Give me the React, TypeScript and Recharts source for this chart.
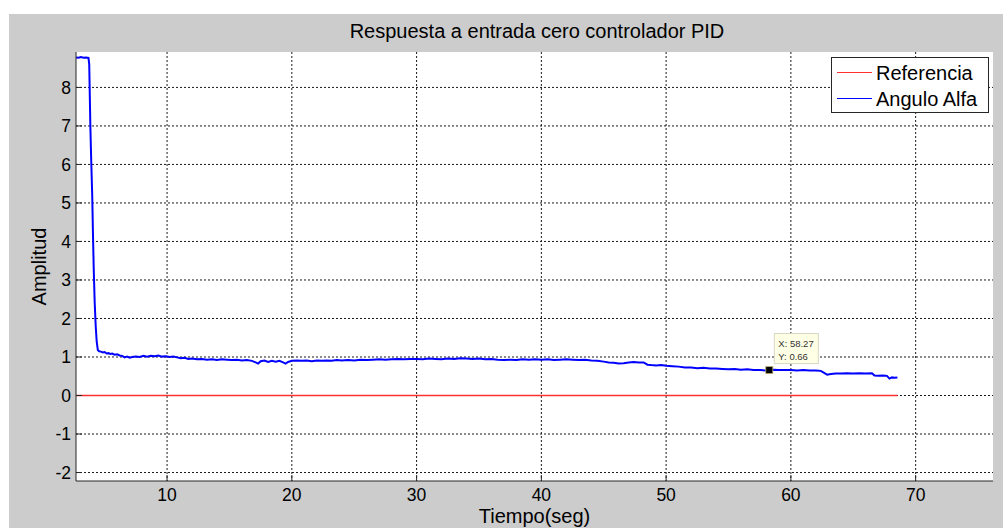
import React from 'react';
import { LineChart, Line, XAxis, YAxis, CartesianGrid, Legend, ReferenceDot } from 'recharts';

// ---- data ----
const timeSec = [
  2.7, 2.9, 3.1, 3.3, 3.5, 3.7, 3.76, 3.85, 3.92, 4.0, 4.06, 4.12, 4.2, 4.28, 4.36, 4.45, 4.55, 4.7, 4.85, 5.0,
  5.15, 5.3, 5.45, 5.6, 5.8, 6.0, 6.2, 6.4, 6.6, 6.8, 7.0, 7.2, 7.5, 7.8, 8.1, 8.4, 8.7, 9.0, 9.3, 9.6,
  9.9, 10.2, 10.5, 10.8, 11.1, 11.4, 11.7, 12.0, 12.4, 12.8, 13.2, 13.6, 14.0, 14.4, 14.8, 15.2, 15.6, 16.0, 16.4, 16.8,
  17.1, 17.3, 17.5, 17.8, 18.1, 18.4, 18.7, 19.0, 19.3, 19.5, 19.7, 20.0, 20.4, 20.8, 21.2, 21.6, 22.0, 22.4, 22.8, 23.2,
  23.6, 24.0, 24.5, 25.0, 25.5, 26.0, 26.5, 27.0, 27.5, 28.0, 28.5, 29.0, 29.5, 30.0, 30.5, 31.0, 31.5, 32.0, 32.5, 33.0,
  33.5, 34.0, 34.5, 35.0, 35.5, 36.0, 36.5, 37.0, 37.5, 38.0, 38.5, 39.0, 39.5, 40.0, 40.5, 41.0, 41.5, 42.0, 42.5, 43.0,
  43.5, 44.0, 44.5, 45.0, 45.4, 45.8, 46.2, 46.6, 47.0, 47.4, 47.8, 48.2, 48.5, 48.8, 49.2, 49.6, 50.0, 50.5, 51.0, 51.5,
  52.0, 52.5, 53.0, 53.5, 54.0, 54.5, 55.0, 55.5, 56.0, 56.5, 57.0, 57.5, 58.0, 58.27, 58.6, 59.0, 59.5, 60.0, 60.5, 61.0,
  61.5, 62.0, 62.4, 62.7, 62.9, 63.2, 63.6, 64.0, 64.5, 65.0, 65.5, 66.0, 66.5, 66.7, 67.0, 67.4, 67.7, 67.9, 68.1, 68.3,
  68.54,
];
const anguloAlfa = [
  8.78, 8.77, 8.79, 8.77, 8.78, 8.77, 8.6, 7.0, 6.1, 5.2, 4.2, 3.3, 2.4, 1.8, 1.4, 1.18, 1.15, 1.14, 1.12, 1.13,
  1.09, 1.1, 1.08, 1.09, 1.06, 1.07, 1.04, 1.03, 0.99, 1.01, 0.98, 1.0, 1.01, 1.0, 1.03, 1.01, 1.03, 1.02, 1.04, 1.01,
  1.02, 1.0, 1.01, 0.99, 0.97, 0.98, 0.95, 0.96, 0.94, 0.95, 0.93, 0.94, 0.92, 0.94, 0.93, 0.92, 0.93, 0.91, 0.92, 0.9,
  0.86, 0.83, 0.89, 0.91, 0.87, 0.9, 0.88, 0.9, 0.86, 0.83, 0.87, 0.9, 0.91, 0.9, 0.91, 0.89, 0.91, 0.9, 0.91, 0.9,
  0.92, 0.91, 0.92, 0.91, 0.93, 0.92, 0.93, 0.94, 0.93, 0.94, 0.95, 0.94, 0.95, 0.95, 0.94, 0.96, 0.95, 0.94, 0.96, 0.95,
  0.97, 0.96, 0.95, 0.96, 0.94, 0.95, 0.93, 0.92, 0.93, 0.92, 0.94, 0.93, 0.94, 0.93, 0.94, 0.92, 0.93, 0.94, 0.93, 0.92,
  0.93, 0.91, 0.9, 0.88, 0.86, 0.85, 0.83, 0.84, 0.86, 0.87, 0.86, 0.86, 0.8, 0.79, 0.78, 0.79, 0.77, 0.76, 0.75, 0.73,
  0.73, 0.71, 0.72, 0.7, 0.7, 0.69, 0.68, 0.69, 0.67, 0.68, 0.66, 0.66, 0.65, 0.66, 0.67, 0.66, 0.66, 0.66, 0.65, 0.66,
  0.65, 0.65, 0.64, 0.58, 0.54, 0.56, 0.57, 0.57, 0.58, 0.57, 0.58, 0.57, 0.58, 0.52, 0.51, 0.52, 0.51, 0.44, 0.47, 0.46,
  0.47,
];
const referenciaTime = [2.7, 68.54];
const referenciaValue = [0, 0];

const xTicks = [10, 20, 30, 40, 50, 60, 70];
const yTicks = [-2, -1, 0, 1, 2, 3, 4, 5, 6, 7, 8];
const xDomain = [2.7, 76.2];
const yDomain = [-2.22, 8.92];

const tipX = 58.27;
const tipY = 0.66;

const titleText = 'Respuesta a entrada cero controlador PID';
const xLabelText = 'Tiempo(seg)';
const yLabelText = 'Amplitud';
const seriesNames = ['Referencia', 'Angulo Alfa'];
const seriesColors = ['#ff3030', '#0000ff'];

const alfaData = timeSec.map((t, i) => ({ t, v: anguloAlfa[i] }));
const refData = referenciaTime.map((t, i) => ({ t, r: referenciaValue[i] }));

// ---- styling ----
const FONT = '"Liberation Sans", Arial, Helvetica, sans-serif';
const AXIS = '#262626';
const TICK_LEN = 6;

const BottomTick = (p: any) => (
  <g>
    <line x1={p.x} x2={p.x} y1={p.y - 8} y2={p.y - 8 - TICK_LEN} stroke={AXIS} strokeWidth={1} />
    <text x={p.x} y={p.y} dy="0.71em" textAnchor="middle" fontSize={17.5} fontFamily={FONT} fill="#000">
      {p.payload.value}
    </text>
  </g>
);
const LeftTick = (p: any) => (
  <g>
    <line x1={p.x + 5} x2={p.x + 5 + TICK_LEN} y1={p.y} y2={p.y} stroke={AXIS} strokeWidth={1} />
    <text x={p.x} y={p.y} dy="0.355em" textAnchor="end" fontSize={17.5} fontFamily={FONT} fill="#000">
      {p.payload.value}
    </text>
  </g>
);
const TopTick = (p: any) => (
  <line x1={p.x} x2={p.x} y1={p.y} y2={p.y + TICK_LEN} stroke={AXIS} strokeWidth={1} />
);
const RightTick = (p: any) => (
  <line x1={p.x - TICK_LEN} x2={p.x} y1={p.y} y2={p.y} stroke={AXIS} strokeWidth={1} />
);

const TipShape = (p: any) => {
  const { cx, cy } = p;
  if (cx == null || cy == null) return <g />;
  return (
    <g>
      <rect x={cx + 5} y={cy - 36.5} width={44} height={30} fill="#ffffe6" stroke="#d6d6c2" strokeWidth={1} />
      <text x={cx + 9} y={cy - 23} fontSize={9.5} fontFamily={FONT} fill="#333">{`X: ${tipX}`}</text>
      <text x={cx + 9} y={cy - 10.5} fontSize={9.5} fontFamily={FONT} fill="#333">{`Y: ${tipY}`}</text>
      <rect x={cx - 3.5} y={cy - 3.5} width={7} height={7} fill="#000" stroke="#b8b070" strokeWidth={0.8} />
    </g>
  );
};

const LegendBox = () => (
  <div
    style={{
      width: 158,
      height: 56,
      boxSizing: 'border-box',
      border: `1px solid ${AXIS}`,
      background: '#fff',
      position: 'relative',
      fontFamily: FONT,
      fontSize: 20,
      color: '#000',
    }}
  >
    {seriesNames.map((name, i) => (
      <div key={name} style={{ position: 'absolute', left: 0, top: i === 0 ? 3 : 29, height: 24, width: '100%' }}>
        <div style={{ position: 'absolute', left: 5, top: 11, width: 35, height: 1, background: seriesColors[i] }} />
        <div style={{ position: 'absolute', left: 44, top: 0, lineHeight: '24px', whiteSpace: 'nowrap' }}>{name}</div>
      </div>
    ))}
  </div>
);

export default function App() {
  return (
    <div style={{ position: 'absolute', left: 0, top: 0, width: 1003, height: 528, background: '#fff', overflow: 'hidden' }}>
      <div style={{ position: 'absolute', left: 9, top: 14, width: 994, height: 514, background: '#cccccc' }} />
      <div
        style={{
          position: 'absolute',
          left: 80,
          top: 21,
          width: 914,
          height: 20,
          lineHeight: '20px',
          textAlign: 'center',
          fontFamily: FONT,
          fontSize: 20,
          color: '#000',
          whiteSpace: 'nowrap',
        }}
      >
        {titleText}
      </div>
      <div style={{ position: 'absolute', left: 0, top: 0 }}>
        <LineChart width={1003} height={528} margin={{ top: 52, right: 10, bottom: 17, left: 16 }}>
          <CartesianGrid
            stroke="#1a1a1a"
            strokeDasharray="2 2"
            fill="#ffffff"
            fillOpacity={1}
            horizontalValues={yTicks}
            verticalValues={xTicks}
          />
          <XAxis
            dataKey="t"
            type="number"
            domain={xDomain}
            ticks={xTicks}
            allowDataOverflow
            height={30}
            tickSize={0}
            tickMargin={8}
            tickLine={false}
            axisLine={{ stroke: AXIS }}
            tick={<BottomTick />}
            label={{ value: xLabelText, position: 'bottom', offset: -2, fontSize: 20, fontFamily: FONT, fill: '#000' }}
          />
          <XAxis
            xAxisId="top"
            orientation="top"
            dataKey="t"
            type="number"
            domain={xDomain}
            ticks={xTicks}
            allowDataOverflow
            height={0}
            tickSize={0}
            tickMargin={0}
            tickLine={false}
            axisLine={{ stroke: AXIS }}
            tick={<TopTick />}
          />
          <YAxis
            type="number"
            domain={yDomain}
            ticks={yTicks}
            allowDataOverflow
            width={60}
            tickSize={0}
            tickMargin={5}
            tickLine={false}
            axisLine={{ stroke: AXIS }}
            tick={<LeftTick />}
            label={{
              value: yLabelText,
              angle: -90,
              position: 'insideLeft',
              offset: 23,
              fontSize: 20,
              fontFamily: FONT,
              fill: '#000',
              style: { textAnchor: 'middle' },
            }}
          />
          <YAxis
            yAxisId="right"
            orientation="right"
            type="number"
            domain={yDomain}
            ticks={yTicks}
            allowDataOverflow
            width={0}
            tickSize={0}
            tickMargin={0}
            tickLine={false}
            axisLine={{ stroke: AXIS }}
            tick={<RightTick />}
          />
          <Legend
            layout="vertical"
            align="center"
            verticalAlign="middle"
            content={<LegendBox />}
            wrapperStyle={{ left: 831, top: 57, width: 158, height: 56, margin: 0 }}
          />
          <Line
            data={alfaData}
            dataKey="v"
            name={seriesNames[1]}
            stroke={seriesColors[1]}
            strokeWidth={2}
            dot={false}
            activeDot={false}
            isAnimationActive={false}
          />
          <Line
            data={refData}
            dataKey="r"
            name={seriesNames[0]}
            stroke={seriesColors[0]}
            strokeWidth={1.5}
            dot={false}
            activeDot={false}
            isAnimationActive={false}
          />
          <ReferenceDot x={tipX} y={tipY} r={3} shape={TipShape} ifOverflow="visible" />
        </LineChart>
      </div>
    </div>
  );
}
